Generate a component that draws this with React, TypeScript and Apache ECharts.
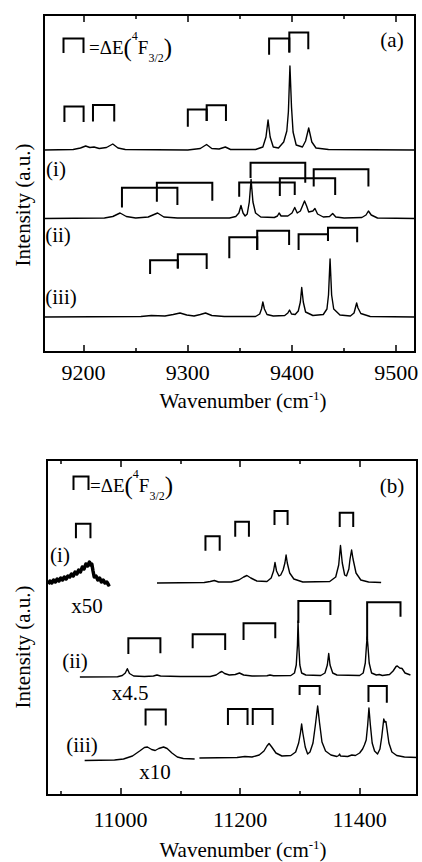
import React, { useEffect, useRef } from 'react';
import * as echarts from 'echarts';

const FONT = "'Liberation Serif', 'Times New Roman', Times, serif";

// ---------- panel (a) ----------
const A_MIN = 9162;
const A_MAX = 9518;
const aMajorTicks = [9200, 9300, 9400, 9500];
const aMinorTicks = [9250, 9350, 9450];

const aTopSpectrum = [
  [9162, 202], [9190, 202.5], [9197, 204], [9202, 206], [9206, 204.5], [9210, 205], [9215, 203.5],
  [9222, 204.5], [9228, 208], [9233, 204], [9240, 202.5], [9300, 202], [9312, 203.5], [9318, 207.5],
  [9323, 203.5], [9330, 203], [9336, 205], [9341, 202.5], [9365, 202.5], [9372, 205], [9375, 215],
  [9377, 232], [9379, 215], [9382, 205], [9387, 204], [9392, 210], [9395, 221], [9396.5, 240],
  [9398, 286], [9399.5, 245], [9401, 220], [9404, 207], [9410, 205], [9413, 211], [9416, 224],
  [9419, 210], [9423, 204], [9435, 202.5], [9518, 202],
];

const aSpectrumI = [
  [9162, 133.5], [9220, 134], [9228, 135.5], [9235, 139], [9241, 135.5], [9250, 134], [9262, 135],
  [9271, 139], [9277, 135], [9290, 134], [9340, 134], [9346, 135.5], [9349, 139], [9351, 146.5],
  [9353, 139], [9355, 136], [9357, 138], [9359, 150], [9360.7, 172.5], [9362.5, 150], [9365, 139],
  [9370, 135], [9383, 134.5], [9386, 136], [9387.6, 139], [9389.5, 136], [9396, 136], [9400, 139],
  [9402.6, 144.5], [9405, 139], [9408, 141], [9410, 146], [9412, 151], [9414, 146], [9416, 140],
  [9420, 141], [9422, 143.5], [9424.5, 138], [9430, 135], [9436, 135.5], [9439, 138.5], [9442, 135],
  [9450, 134], [9467, 134.5], [9471, 137], [9473.3, 141], [9476, 137], [9482, 134], [9518, 133.5],
];

const aSpectrumIII = [
  [9162, 35], [9255, 35.5], [9265, 36.5], [9278, 36], [9286, 37.5], [9292.5, 39], [9299, 37],
  [9306, 36], [9312, 37.5], [9317, 39], [9323, 36.5], [9335, 35.5], [9365, 35.5], [9369, 38],
  [9370.7, 43], [9372, 50], [9373.5, 43], [9376, 37.5], [9382, 36], [9393, 36.5], [9396, 39],
  [9397.6, 42], [9399.5, 38], [9403, 37.5], [9406, 41], [9408, 50], [9409.3, 64.5], [9410.8, 50],
  [9413, 40], [9420, 36.5], [9430, 37.5], [9433.5, 43], [9435, 57], [9436.5, 93], [9438, 57],
  [9440, 43], [9446, 37], [9456, 36], [9459.5, 39], [9461, 45], [9462, 49], [9463.3, 44],
  [9466, 38.5], [9475, 35.5], [9518, 35],
];

// brackets: [leftX, rightX, top, leftBottom, rightBottom]
const aBracketsTop = [
  [9181.6, 9200, 245.5, 230, 230],
  [9209, 9229.4, 247, 230.5, 230.5],
  [9300, 9318.1, 242.5, 225.3, 231],
  [9318.1, 9336.6, 246.7, 231, 231],
  [9378, 9397.4, 313.5, 297.3, 299.5],
  [9397.4, 9415.6, 319.5, 299.5, 302.7],
];
const aBracketsI = [
  [9236.8, 9290, 164.3, 144.5, 147],
  [9270.3, 9323.5, 169.3, 150.3, 151.3],
  [9360.2, 9412.7, 189.3, 174, 169.3],
  [9349.3, 9402.6, 169.5, 155.3, 157],
  [9388.3, 9441.4, 173.7, 156, 157],
  [9420.8, 9473.3, 182.7, 165.5, 165.5],
];
const aBracketsII = [
  [9339.8, 9366.6, 114.7, 93.7, 102],
  [9366.6, 9397.2, 121.2, 102, 107],
  [9406.3, 9434.5, 117.8, 102, 111],
  [9434.5, 9462.5, 124.3, 111, 109.7],
  [9263.8, 9290.4, 91.7, 78, 83.5],
  [9290.4, 9318.1, 97.7, 83.5, 83],
];

// ---------- panel (b) ----------
const B_MIN = 10877;
const B_MAX = 11496;
const bMajorTicks = [11000, 11200, 11400];
const bMinorTicks = [10900, 11100, 11300];

const bNoiseI = [
  [10879, 211], [10882, 214], [10885, 212], [10888, 215], [10891, 213], [10894, 216], [10897, 214],
  [10900, 217], [10903, 215], [10906, 218], [10909, 216], [10912, 219], [10915, 218], [10918, 221],
  [10921, 219], [10924, 223], [10927, 221], [10930, 225], [10933, 223], [10936, 228], [10939, 226],
  [10942, 231], [10945, 229], [10948, 233], [10950, 230], [10952, 231], [10954, 224], [10956, 218],
  [10959, 219], [10962, 215], [10965, 217], [10968, 213], [10971, 215], [10974, 212], [10977, 213],
  [10980, 210], [10982, 211],
];

const bSpectrumI = [
  [11061, 212], [11140, 212.5], [11150, 213.5], [11157, 214.5], [11164, 213], [11185, 213],
  [11198, 215], [11206, 218], [11211.5, 219.5], [11218, 217], [11228, 214], [11245, 213.5],
  [11252, 217], [11256, 224], [11258.4, 232.5], [11261, 224], [11265, 219], [11268, 220],
  [11272, 225], [11275, 232], [11277, 240], [11279, 232], [11283, 222], [11290, 216], [11305, 213],
  [11350, 213.5], [11360, 218], [11365, 230], [11368, 249.5], [11371, 232], [11375, 220],
  [11378, 219], [11382, 226], [11384, 236], [11386.6, 245], [11389, 236], [11394, 222],
  [11402, 215], [11415, 213], [11436, 212.5],
];

const bSpectrumII = [
  [10932, 118], [10995, 118.3], [11003, 119.5], [11008, 122], [11011.4, 126.3], [11015, 121.5],
  [11022, 119], [11040, 118.5], [11055, 119], [11061, 120], [11067, 119], [11100, 118.5],
  [11150, 118.5], [11160, 120], [11166, 122.5], [11169.6, 123.5], [11174, 121.5], [11182, 120],
  [11192, 120.5], [11199, 122], [11206, 120], [11220, 119], [11245, 119.2], [11250, 120],
  [11256, 119.2], [11285, 119.5], [11291, 122], [11294, 130], [11296, 150], [11297, 174],
  [11298.2, 150], [11300, 130], [11303, 122], [11310, 120], [11335, 119.5], [11342, 122],
  [11346, 130], [11348.3, 141.5], [11350.5, 130], [11355, 122], [11362, 120], [11400, 119.5],
  [11406, 122], [11409.5, 132], [11411.5, 150], [11412.6, 158], [11413.8, 150], [11416, 132],
  [11420, 122], [11428, 120], [11433, 120.5], [11438, 119.5], [11450, 120.5], [11456, 124],
  [11461, 128.5], [11463, 129], [11467, 127], [11471, 126.5], [11476, 122], [11485, 120],
];

const bSpectrumIIIa = [
  [10940, 34.5], [10990, 35], [11005, 36], [11020, 39], [11032, 44], [11040, 47.5], [11045, 48],
  [11052, 45.5], [11058, 44.5], [11064, 46.5], [11072, 48], [11078, 46.5], [11086, 42],
  [11095, 38], [11105, 36.5], [11124, 36],
];

const bSpectrumIIIb = [
  [11132, 37], [11195, 37.5], [11208, 38.5], [11220, 38], [11232, 40], [11240, 44], [11245, 49],
  [11248.5, 51.5], [11253, 48], [11260, 42], [11270, 39], [11285, 39.5], [11293, 43], [11298, 52],
  [11301, 62], [11303, 71], [11305, 62], [11309, 48], [11313, 41], [11317, 43], [11322, 52],
  [11326, 70], [11329.8, 89], [11333, 72], [11337, 53], [11343, 44], [11352, 40], [11362, 38.5],
  [11365, 39.5], [11366.5, 41], [11368, 39], [11380, 38.5], [11387, 40], [11393, 39.5], [11400, 42],
  [11405, 46], [11408, 50], [11411, 55], [11413.5, 70], [11415.6, 87], [11418, 70], [11421, 52],
  [11425, 44], [11430, 41], [11434, 46], [11437, 58], [11440.4, 76], [11442, 73], [11444, 73.5],
  [11446, 65], [11449, 52], [11454, 43], [11462, 39.5], [11475, 38], [11496, 37.5],
];

const bBracketsI = [
  [10925.4, 10949.7, 271.2, 256.7, 256.7],
  [11142.1, 11165.9, 258.7, 244.2, 244.2],
  [11191.9, 11214.8, 273.3, 258.3, 258.3],
  [11257.6, 11279.5, 284, 270, 270],
  [11366.7, 11389.3, 282.2, 268, 268],
];
const bBracketsII = [
  [11013.1, 11066.7, 156.7, 141, 141.7],
  [11120.7, 11175.1, 160.8, 146.7, 145],
  [11205.8, 11258.9, 171.7, 155, 156.7],
  [11297.5, 11351.1, 194, 172, 180],
  [11412.6, 11468.4, 192.8, 155, 178.3],
];
const bBracketsIII = [
  [11041.9, 11075.7, 85.5, 69.5, 69.5],
  [11179.7, 11212.5, 86, 70, 70],
  [11221.2, 11254.4, 86, 70, 70],
  [11299.6, 11333.2, 109, 100, 100],
  [11414.8, 11445.5, 109, 93, 92.3],
];

function spectrum(data: number[][], xi: number, yi: number, width = 1.4) {
  return {
    type: 'line', xAxisIndex: xi, yAxisIndex: yi, data, symbol: 'none', showSymbol: false,
    silent: true, lineStyle: { color: '#000', width, join: 'round' }, z: 2,
  };
}

function brackets(list: number[][], xi: number, yi: number) {
  return list.map(([x1, x2, t, bl, br]) => ({
    type: 'line', xAxisIndex: xi, yAxisIndex: yi, symbol: 'none', showSymbol: false, silent: true,
    data: [[x1, bl], [x1, t], [x2, t], [x2, br]],
    lineStyle: { color: '#000', width: 2, join: 'miter', cap: 'butt' }, z: 3,
  }));
}

function xAxes(grid: number, min: number, max: number, major: number[], minor: number[], margin: number) {
  const common = { type: 'value', gridIndex: grid, min, max, axisLine: { show: false }, splitLine: { show: false } };
  const tickStyle = { color: '#000', width: 1.5 };
  return [
    {
      ...common, position: 'bottom',
      axisTick: { show: true, inside: true, length: 7, customValues: major, lineStyle: tickStyle },
      axisLabel: {
        show: true, customValues: major, fontSize: 22, fontFamily: FONT, color: '#000', margin,
        formatter: (v: number) => String(Math.round(v)),
      },
    },
    {
      ...common, position: 'bottom',
      axisTick: { show: true, inside: true, length: 4, customValues: minor, lineStyle: tickStyle },
      axisLabel: { show: false },
    },
    {
      ...common, position: 'top',
      axisTick: { show: true, inside: true, length: 7, customValues: major, lineStyle: tickStyle },
      axisLabel: { show: false },
    },
    {
      ...common, position: 'top',
      axisTick: { show: true, inside: true, length: 4, customValues: minor, lineStyle: tickStyle },
      axisLabel: { show: false },
    },
  ];
}

function label(text: string, x: number, y: number, size = 21) {
  return {
    type: 'text', x, y, z: 10,
    style: { text, fontSize: size, fontFamily: FONT, fill: '#000', align: 'center', verticalAlign: 'middle', textAlign: 'center', textVerticalAlign: 'middle' },
  };
}

function legendText(x: number, y: number) {
  return {
    type: 'text', x, y, z: 10,
    style: {
      text: '{m|=ΔE}{p|(}{sup|4}{m|F}{sub|3/2}{p|)}',
      fontFamily: FONT, fill: '#000', align: 'left', verticalAlign: 'middle', textAlign: 'left', textVerticalAlign: 'middle',
      rich: {
        m: { fontSize: 19, lineHeight: 20, fontFamily: FONT, fill: '#000' },
        p: { fontSize: 25, lineHeight: 34, fontFamily: FONT, fill: '#000' },
        sup: { fontSize: 12, lineHeight: 16, fontFamily: FONT, fill: '#000', verticalAlign: 'top' },
        sub: { fontSize: 12, lineHeight: 12, fontFamily: FONT, fill: '#000', verticalAlign: 'bottom' },
      },
    },
  };
}

function legendBracket(x1: number, x2: number, top: number, bottom: number) {
  return {
    type: 'polyline', z: 10,
    shape: { points: [[x1, bottom], [x1, top], [x2, top], [x2, bottom]] },
    style: { stroke: '#000', lineWidth: 2, fill: null },
  };
}

function xTitle(x: number, y: number) {
  return {
    type: 'text', x, y, z: 10,
    style: {
      text: '{m|Wavenumber (cm}{s|-1}{m|)}',
      fontFamily: FONT, fill: '#000', align: 'center', verticalAlign: 'middle', textAlign: 'center', textVerticalAlign: 'middle',
      rich: {
        m: { fontSize: 21, lineHeight: 24, fontFamily: FONT, fill: '#000' },
        s: { fontSize: 13, lineHeight: 13, fontFamily: FONT, fill: '#000', verticalAlign: 'top' },
      },
    },
  };
}

function yTitle(x: number, y: number) {
  return {
    type: 'text', x, y, rotation: Math.PI / 2, z: 10,
    style: { text: 'Intensity (a.u.)', fontSize: 21, fontFamily: FONT, fill: '#000', align: 'center', verticalAlign: 'middle', textAlign: 'center', textVerticalAlign: 'middle' },
  };
}

export default function App() {
  const ref = useRef<HTMLDivElement>(null);
  useEffect(() => {
    if (!ref.current) return;
    const chart = echarts.init(ref.current, undefined, { renderer: 'svg' });
    const option = {
      animation: false,
      backgroundColor: '#fff',
      grid: [
        { left: 44, top: 15, width: 371, height: 337, show: true, borderColor: '#000', borderWidth: 2, backgroundColor: 'transparent' },
        { left: 47, top: 460, width: 370, height: 335, show: true, borderColor: '#000', borderWidth: 2, backgroundColor: 'transparent' },
      ],
      xAxis: [
        ...xAxes(0, A_MIN, A_MAX, aMajorTicks, aMinorTicks, 9),
        ...xAxes(1, B_MIN, B_MAX, bMajorTicks, bMinorTicks, 13),
      ],
      yAxis: [
        { type: 'value', gridIndex: 0, min: 0, max: 337, show: false },
        { type: 'value', gridIndex: 1, min: 0, max: 335, show: false },
      ],
      series: [
        spectrum(aTopSpectrum, 0, 0),
        spectrum(aSpectrumI, 0, 0),
        spectrum(aSpectrumIII, 0, 0),
        ...brackets(aBracketsTop, 0, 0),
        ...brackets(aBracketsI, 0, 0),
        ...brackets(aBracketsII, 0, 0),
        spectrum(bNoiseI, 4, 1, 3.5),
        spectrum(bSpectrumI, 4, 1),
        spectrum(bSpectrumII, 4, 1),
        spectrum(bSpectrumIIIa, 4, 1),
        spectrum(bSpectrumIIIb, 4, 1),
        ...brackets(bBracketsI, 4, 1),
        ...brackets(bBracketsII, 4, 1),
        ...brackets(bBracketsIII, 4, 1),
      ],
      graphic: [
        legendBracket(63.5, 83.5, 38.5, 53),
        legendText(89, 47),
        label('(a)', 392, 40),
        label('(i)', 56, 169),
        label('(ii)', 58, 235),
        label('(iii)', 61, 297),
        xTitle(243, 401),
        yTitle(23, 205),
        legendBracket(73.5, 88.5, 476.5, 490),
        legendText(90, 485),
        label('(b)', 392, 486),
        label('(i)', 60, 555),
        label('x50', 87, 606),
        label('(ii)', 75, 661),
        label('x4.5', 130, 693),
        label('(iii)', 82, 745),
        label('x10', 155, 772),
        xTitle(243, 850),
        yTitle(23, 647),
      ],
    };
    chart.setOption(option as any);
    return () => chart.dispose();
  }, []);
  return <div ref={ref} style={{ position: 'fixed', left: 0, top: 0, width: 422, height: 862 }} />;
}
